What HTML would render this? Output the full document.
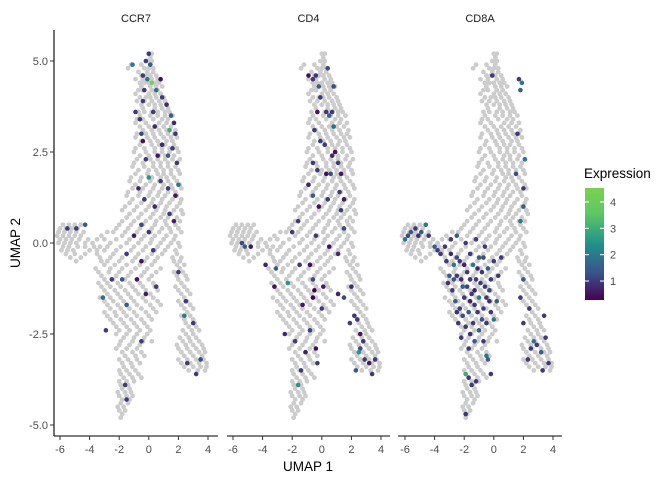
<!DOCTYPE html>
<html><head><meta charset="utf-8"><style>
body{margin:0;background:#fff;}
svg{display:block;font-family:"Liberation Sans",sans-serif;}
</style></head><body>
<svg id="c" width="672" height="480"></svg>
<script>
const genes=["CCR7","CD4","CD8A"];
const yTicks=[5.0,2.5,0.0,-2.5,-5.0];
const yTickLabels=["5.0","2.5","0.0","-2.5","-5.0"];
const xTicks=[-6,-4,-2,0,2,4];
const legendTicks=[1,2,3,4];
const cellRows=[
[5.2,[0,0.2]],[5.0,[-0.1,0.2]],[4.8,[-0.3,0,0.3,-1.4]],[4.6,[-0.5,-0.2,0.1,0.5]],
[4.4,[-0.6,-0.3,0,0.4,0.7]],[4.2,[-0.7,-0.4,0.2,0.6]],[4.0,[-0.6,-0.2,0.1,0.5,1.0]],
[3.8,[-0.5,0,0.4,0.8,1.2]],[3.6,[-0.7,-0.3,0.2,0.6,1.1,1.4]],[3.4,[-0.8,-0.4,0.3,0.9,1.3]],
[3.2,[-0.6,0,0.5,1.0,1.5]],[3.0,[-0.8,-0.2,0.3,0.8,1.3,1.7]],[2.8,[-0.5,0.1,0.6,1.2,1.6]],
[2.6,[-0.9,-0.3,0.4,0.9,1.4,1.9]],[2.4,[-0.6,0,0.7,1.1,1.7]],[2.2,[-1.0,-0.4,0.3,0.8,1.3,1.9]],
[2.0,[-0.7,0,0.5,1.0,1.5,2.0]],[1.8,[-1.2,-0.5,0.2,0.8,1.2,1.7]],[1.6,[-0.9,-0.2,0.4,1.0,1.5,2.1]],
[1.4,[-1.4,-0.6,0.1,0.7,1.3,1.8]],[1.2,[-1.1,-0.3,0.3,0.9,1.6,2.2]],[1.0,[-1.6,-0.8,0,0.6,1.2,1.9]],
[0.8,[-1.3,-0.5,0.3,1.0,1.5,2.3]],[0.6,[-1.8,-1.0,-0.2,0.5,1.1,1.7,2.1]],
[0.4,[-2.2,-1.4,-0.6,0.2,0.9,1.4,2.0,-6,-5.6,-5.2,-4.8]],
[0.2,[-1.8,-1.0,-0.3,0.4,1.2,1.8,-6.2,-5.8,-5.4,-5.0,-4.6,-3.2]],
[0.0,[-2.6,-1.5,-0.7,0.1,0.8,1.5,2.0,-6.1,-5.7,-5.3,-4.9,-4.3,-3.8]],
[-0.2,[-3.0,-2.2,-1.2,-0.4,0.4,1.1,1.8,-5.9,-5.5,-5.1,-4.0,-3.5]],
[-0.4,[-3.3,-2.6,-1.8,-0.9,-0.1,0.6,1.6,2.2,-5.3,-4.6]],
[-0.6,[-3.0,-2.3,-1.5,-0.6,0.2,1.9,2.4]],[-0.8,[-3.4,-2.7,-2.0,-1.2,-0.3,0.5,1.7,2.3]],
[-1.0,[-3.0,-2.4,-1.6,-0.8,0,2.0,2.6]],[-1.2,[-3.2,-2.6,-1.9,-1.1,-0.4,0.4,1.8,2.4]],
[-1.4,[-2.8,-2.1,-1.4,-0.7,0.1,2.2,2.8]],[-1.6,[-3.0,-2.4,-1.7,-1.0,-0.2,0.6,2.0,2.6]],
[-1.8,[-2.6,-1.9,-1.3,-0.5,0.3,2.4,3.0]],[-2.0,[-2.8,-2.2,-1.5,-0.8,0,2.2,2.8]],
[-2.2,[-2.4,-1.7,-1.0,-0.3,2.5,3.1]],[-2.4,[-2.0,-1.3,-0.6,0.1,2.3,2.9,3.4]],
[-2.6,[-1.7,-1.0,-0.3,2.1,2.7,3.2]],[-2.8,[-2.0,-1.3,-0.6,1.9,2.5,3.0,3.6]],
[-3.0,[-1.8,-1.1,-0.5,2.2,2.8,3.4,3.8]],[-3.2,[-2.0,-1.4,-0.8,2.0,2.6,3.2,3.7]],
[-3.4,[-1.7,-1.1,2.4,3.0,3.5,3.9]],[-3.6,[-1.9,-1.3,-0.7]],[-3.8,[-2.0,-1.5,-1.0]],
[-4.0,[-1.8,-1.3]],[-4.2,[-2.0,-1.5,-1.1]],[-4.4,[-1.9,-1.4]],[-4.6,[-2.0,-1.6]],[-4.8,[-1.9]],
[5.1,[0.1]],[4.9,[-1.2,0.1,-0.5]],[4.7,[-0.7,0.3,-0.1]],[4.5,[-0.9,-0.4,0.2,0.6]],[4.3,[-0.5,0.1,0.5,0.9]],
[4.1,[-0.9,0,0.4,0.8]],[3.9,[-0.8,-0.3,0.2,0.7,1.1]],[3.7,[-0.4,0.4,0.9,1.3]],[3.5,[-0.6,0.1,0.6,1.1,1.6]],
[3.3,[-0.9,-0.2,0.7,1.2,1.7]],[3.1,[-0.4,0.2,0.7,1.2,1.8]],[2.9,[-0.9,-0.1,0.4,1.0,1.5,1.9]],
[2.7,[-0.6,0.2,0.7,1.1,1.7]],[2.5,[-1.0,-0.2,0.4,0.9,1.4,2.0]],[2.3,[-0.8,0.1,0.6,1.1,1.6,2.1]],
[2.1,[-1.1,-0.3,0.3,0.8,1.3,1.8]],[1.9,[-0.9,-0.1,0.6,1.0,1.5,2.1]],[1.7,[-1.3,-0.6,0.1,0.7,1.3,1.9]],
[1.5,[-1.1,-0.4,0.3,0.9,1.6,2.2]],[1.3,[-1.5,-0.7,0,0.6,1.1,1.9]],[1.1,[-1.3,-0.5,0.2,0.8,1.4,2.1]],
[0.9,[-1.8,-1.0,-0.2,0.5,1.1,1.7,2.2]],[0.7,[-1.5,-0.7,0.1,0.8,1.3,1.9]],
[0.5,[-2.0,-1.2,-0.4,0.4,1.2,1.8,-5.8,-5.4,-5.0,-4.6]],
[0.3,[-2.4,-1.6,-0.8,0.1,0.7,1.5,2.2,-6.1,-5.7,-5.3,-4.9,-4.4,-2.8]],
[0.1,[-2.2,-1.3,-0.5,0.2,1.0,1.7,-6.0,-5.6,-5.2,-4.7,-4.1,-3.5,-3.0]],
[-0.1,[-2.8,-1.9,-1.0,-0.2,0.6,1.3,2.1,-5.8,-5.4,-4.8,-4.3,-3.7,-3.3]],
[-0.3,[-3.5,-2.4,-1.5,-0.7,0.2,0.9,1.9,-5.6,-5.0,-4.3]],
[-0.5,[-3.2,-2.8,-2.0,-1.1,-0.3,0.4,1.7,2.1,-4.9]],[-0.7,[-3.6,-2.6,-1.8,-0.9,-0.1,0.8,2.1]],
[-0.9,[-3.2,-2.2,-1.4,-0.5,0.2,1.9,2.5]],[-1.1,[-3.4,-2.8,-2.1,-1.3,-0.6,0.3,2.2]],
[-1.3,[-3.0,-2.3,-1.6,-0.9,-0.2,0.6,2.0,2.6]],[-1.5,[-3.3,-2.6,-1.9,-1.2,-0.4,0.3,2.4]],
[-1.7,[-2.8,-2.1,-1.5,-0.8,0.1,0.8,2.2,2.8]],[-1.9,[-3.0,-2.3,-1.7,-1.0,-0.2,0.5,2.6]],
[-2.1,[-2.6,-1.9,-1.2,-0.5,0.2,2.4,3.0]],[-2.3,[-2.2,-1.5,-0.8,-0.1,2.7,3.2]],
[-2.5,[-2.2,-1.5,-0.8,-0.1,2.5,3.0]],[-2.7,[-1.9,-1.1,-0.4,0.2,2.3,2.8,3.4]],
[-2.9,[-2.2,-1.5,-0.8,2.0,2.6,3.2,3.7]],[-3.1,[-1.6,-0.9,-0.3,2.4,3.0,3.6]],
[-3.3,[-1.8,-1.2,-0.6,2.2,2.8,3.4,3.9]],[-3.5,[-2.0,-1.5,-0.9,2.7,3.3,3.8]],
[-3.7,[-1.7,-1.1,-0.5]],[-3.9,[-1.9,-1.4]],[-4.1,[-2.1,-1.6,-1.2]],[-4.3,[-1.8,-1.3]],
[-4.5,[-2.1,-1.7]],[-4.7,[-1.8]]
];
const exprCCR7=[[0,5.2,1],[-0.2,5.0,1],[0.1,4.9,1.5],[-1.1,4.9,2],[-0.4,4.6,1],[-0.1,4.5,2],[0.2,4.4,4.5],[-0.3,4.2,1],[0.5,4.2,1.8],[-0.4,3.9,1],[0.8,4.5,0.5],[0.9,4.0,1],[1.2,3.8,0.8],[-0.9,3.6,1],[-0.6,3.4,1],[0.3,3.6,1],[1.5,3.5,1.5],[1.7,3.3,0.8],[-0.5,3.0,1.2],[0.4,3.2,0.8],[1.4,3.1,3],[1.8,3.0,1],[-0.4,2.8,0.5],[0.9,2.7,0.8],[1.6,2.6,1],[-0.2,2.3,1],[0.6,2.4,0.6],[1.3,2.4,1.5],[1.9,2.2,1],[0,1.8,2.5],[0.8,1.7,1],[2.0,1.6,2],[-0.7,1.5,0.8],[1.3,1.5,1],[-0.3,1.2,1],[1.8,1.3,0.5],[0.4,1.0,0.8],[1.4,0.8,1],[-0.5,0.5,1.2],[1.7,0.6,0.7],[0,0.3,1],[-1.0,0.2,0.6],[-5.5,0.4,1],[-4.9,0.4,1],[-4.3,0.5,1.5],[-1.5,-0.3,1],[-0.5,-0.5,0.5],[0.3,-0.2,1],[-0.8,-1.0,0.5],[-2.5,-1.0,1],[-0.2,-1.4,0.6],[0.5,-1.2,1],[-1.5,-1.7,1.5],[2.0,-0.8,1],[2.5,-1.6,1],[2.4,-2.0,2],[3.0,-2.2,1],[3.5,-3.2,1.2],[2.6,-3.3,1],[3.2,-3.6,1],[-0.5,-2.7,1],[-1.6,-3.9,1],[-1.5,-4.3,1],[-3.1,-1.5,1.8],[-2.9,-2.4,1],[-1.8,-1.0,1.3]];
const exprCD4=[[0.4,4.8,1.2],[-0.9,4.6,0.5],[-0.6,4.5,1],[-0.4,4.6,1],[0.8,4.3,1.2],[-0.2,4.3,1.5],[-0.1,4.0,1],[0.3,3.6,1],[0.5,3.5,1.5],[-0.3,3.6,0.6],[0.8,3.2,1.8],[0.7,3.6,1],[-0.5,3.1,1],[-0.1,2.8,1],[0.2,2.7,1],[0.7,2.4,0.8],[-0.6,2.2,1],[0.9,2.5,0.5],[-0.3,2.0,1],[0.3,1.9,0.5],[0.6,1.9,1.3],[1.1,2.2,1],[1.3,1.9,0.6],[-0.9,1.6,0.7],[1.2,1.4,1],[0.4,1.2,1],[1.3,0.9,1],[1.5,1.2,0.6],[-0.6,1.3,1.5],[-0.2,1.0,0.5],[1.5,0.4,1.2],[-1.6,0.6,1],[-2.0,0.3,1],[-0.4,0.2,1],[0.5,-0.1,0.5],[1.1,-0.3,0.8],[-5.4,0.0,1.2],[-5.2,-0.1,1.5],[-4.8,-0.1,0.6],[-3.8,-0.6,0.7],[-3.1,-0.7,1.5],[-2.3,-1.1,2.5],[-3.2,-1.2,0.5],[-1.5,-0.6,1],[-0.8,-0.6,0.5],[-0.5,-1.3,0.3],[-0.6,-1.5,0.3],[0,-1.8,1],[-0.6,-1.0,1.2],[0.1,-1.2,0.6],[-1.3,-1.7,0.6],[-2.5,-2.5,0.8],[-0.8,-2.4,1.1],[-0.4,-2.9,0.5],[-1.1,-3.0,0.7],[-0.3,-3.3,1],[1.1,-1.4,0.7],[1.5,-1.5,1.2],[2.4,-2.1,1],[2.2,-2.0,1],[2.6,-2.5,0.6],[2.8,-2.7,1],[2.6,-2.9,1.2],[2.9,-3.2,1],[3.2,-3.3,0.6],[3.4,-3.6,1],[2.3,-3.5,1.4],[2.5,-3.0,2.5],[3.6,-3.2,1],[1.9,-2.2,1],[-1.8,-2.7,1],[-1.4,-3.5,1],[-1.6,-3.9,2.5],[2.0,-1.2,0.8]];
const exprCD8A=[[-0.1,4.6,1],[1.7,4.5,1],[1.9,4.4,2],[1.8,4.2,1.5],[1.6,3.0,1],[2.1,2.3,2],[1.5,1.9,1.2],[2.0,1.5,1],[2.0,1.0,1.5],[1.8,0.6,2],[-6.0,0.1,2],[-5.6,0.3,1.5],[-5.3,0.4,1],[-4.9,0.3,1.5],[-4.6,0.5,2],[-4.4,0.2,1],[-4.0,-0.1,1.5],[-3.6,-0.3,1],[-3.2,-0.5,1],[-3.0,-0.9,1.5],[-2.7,-0.6,2],[-2.5,-0.9,1],[-2.3,-0.5,1],[-2.1,-1.2,1.5],[-1.8,-0.8,1],[-1.6,-1.0,1],[-1.4,-0.6,2],[-1.2,-1.0,1],[-1.0,-0.4,1.5],[-0.8,-0.8,1],[-0.6,-1.2,1],[-0.4,-0.7,1.5],[-0.2,-1.0,1],[0,-0.5,1],[0.3,-0.9,1],[-2.8,-1.3,1],[-2.6,-1.6,1.5],[-2.3,-1.8,1],[-2.0,-1.5,1],[-1.7,-1.9,1.5],[-1.5,-1.4,1],[-1.3,-1.7,1],[-1.0,-1.5,2],[-0.7,-1.8,1],[-0.5,-1.5,1],[-0.2,-1.9,1],[0.2,-1.6,1.5],[-2.4,-2.2,1],[-1.9,-2.3,1],[-1.4,-2.2,1],[-1.0,-2.4,1.5],[-0.5,-2.2,1],[0,-2.1,2],[-3.3,-0.1,1],[-2.9,0.1,1],[-2.5,0.2,1.5],[-1.9,0.0,1],[-1.2,0.1,1],[-0.6,-0.1,1],[0.5,-0.4,1],[-1.7,-2.9,1],[-1.3,-2.7,1.5],[-0.7,-2.7,1],[-0.5,-3.1,2],[-1.9,-3.6,3],[-1.7,-3.7,1],[-1.5,-3.9,1],[-1.2,-3.8,1],[-1.9,-4.7,1],[-0.4,-3.2,1.5],[-0.2,-3.6,1],[1.8,-1.5,1],[2.0,-1.0,1.5],[2.4,-1.8,1],[2.7,-2.7,2],[2.5,-2.9,1],[2.9,-2.8,1],[3.2,-3.0,1.5],[3.5,-2.6,1],[3.7,-3.3,1],[3.3,-3.5,1],[2.3,-3.2,1],[3.4,-2.0,1],[2.0,-2.2,1],
[-2.9,-0.3,0.8],[-2.5,-0.4,1.2],[-2.0,-0.6,0.7],[-1.6,-0.3,1],[-1.1,-0.7,0.8],[-0.7,-0.4,1.2],[-3.1,-1.1,0.9],[-2.7,-1.0,1.3],[-2.2,-1.0,0.8],[-1.8,-1.2,1.1],[-1.3,-1.3,0.7],[-0.9,-1.1,1],[-0.3,-1.3,1.2],[-2.5,-1.9,0.9],[-2.1,-2.0,1.2],[-1.6,-1.6,0.7],[-1.1,-1.9,1],[-0.8,-2.1,1.3],[-0.3,-1.6,0.8],[-2.2,-2.6,1],[-1.6,-2.5,0.9],[-5.8,0.2,1.2],[-5.1,0.2,0.9],[-3.8,-0.2,1]];
const exprAll=[exprCCR7,exprCD4,exprCD8A];

const NS="http://www.w3.org/2000/svg";
const svg=document.getElementById('c');
function el(t,a,p){const e=document.createElementNS(NS,t);for(const k in a)e.setAttribute(k,a[k]);(p||svg).appendChild(e);return e;}
const panelX0=[60,233,405], pxPerX=14.8;
const axisL=[54,227,398], axisR=[218,390,562];
const yScale=v=>243-v*36.4;
const vir=[[68,1,84],[59,82,139],[33,145,140],[94,201,98],[122,209,81]];
const vStops=[0.28,1.3,2.4,3.6,4.53];
function col(v){
  if(v<=vStops[0])return `rgb(${vir[0]})`;
  for(let i=1;i<vStops.length;i++){if(v<=vStops[i]){const t=(v-vStops[i-1])/(vStops[i]-vStops[i-1]);const c=vir[i-1].map((a,j)=>Math.round(a+(vir[i][j]-a)*t));return `rgb(${c})`;}}
  return `rgb(${vir[4]})`;
}
const cells=[];cellRows.forEach(r=>r[1].forEach(x=>cells.push([x,r[0]])));

genes.forEach((g,p)=>{
  const xs=v=>panelX0[p]+(v+6)*pxPerX;
  const grp=el('g',{});
  
  
  const t=el('text',{x:(axisL[p]+axisR[p])/2,y:22,'text-anchor':'middle','font-size':11,fill:'#1a1a1a'},grp);t.textContent=g;
  
  
  cells.forEach(c=>{const e=el('circle',{cx:xs(c[0]),cy:yScale(c[1]),r:2.4,fill:'#cccccc'},grp);
    
    });
  exprAll[p].forEach(d=>{const e=el('circle',{cx:xs(d[0]),cy:yScale(d[1]),r:2.3,fill:col(d[2])},grp);
    
    });
  const ax=el('line',{x1:axisL[p],x2:axisR[p],y1:436,y2:436,stroke:'#000','stroke-width':1.1},grp);
  
  
  xTicks.forEach(v=>{el('line',{x1:xs(v),x2:xs(v),y1:436,y2:440,stroke:'#333'},grp);
    const tl=el('text',{x:xs(v),y:453,'text-anchor':'middle','font-size':11,fill:'#4d4d4d'},grp);tl.textContent=v;
    
    });
});
const ya=el('line',{x1:54,x2:54,y1:30,y2:436,stroke:'#000','stroke-width':1.1});


yTicks.forEach((v,i)=>{el('line',{x1:50,x2:54,y1:yScale(v),y2:yScale(v),stroke:'#333'});
  const t=el('text',{x:48,y:yScale(v)+4,'text-anchor':'end','font-size':11,fill:'#4d4d4d'});t.textContent=yTickLabels[i];
  
  });
const xt=el('text',{x:308,y:471,'text-anchor':'middle','font-size':13.5,fill:'#000'});xt.textContent='UMAP 1';


const yt=el('text',{x:20,y:243,'text-anchor':'middle','font-size':13.5,fill:'#000',transform:'rotate(-90 20 243)'});yt.textContent='UMAP 2';


const lg=el('g',{});


const defs=el('defs',{},lg);
const grad=el('linearGradient',{id:'vg',x1:0,y1:1,x2:0,y2:0},defs);
vStops.forEach((s,i)=>el('stop',{offset:(s-vStops[0])/(vStops[4]-vStops[0]),'stop-color':`rgb(${vir[i]})`},grad));
const lt=el('text',{x:584,y:178,'font-size':13.5,fill:'#000'},lg);lt.textContent='Expression';


const barTop=188,barBot=300,ly=v=>barBot-(v-vStops[0])/(vStops[4]-vStops[0])*(barBot-barTop);
const cb=el('rect',{x:585,y:barTop,width:19,height:barBot-barTop,fill:'url(#vg)'},lg);


legendTicks.forEach(v=>{el('line',{x1:585,x2:589,y1:ly(v),y2:ly(v),stroke:'#fff'},lg);el('line',{x1:600,x2:604,y1:ly(v),y2:ly(v),stroke:'#fff'},lg);
  const t=el('text',{x:610,y:ly(v)+4,'font-size':11,fill:'#4d4d4d'},lg);t.textContent=v;
  
  });
</script>
</body></html>
